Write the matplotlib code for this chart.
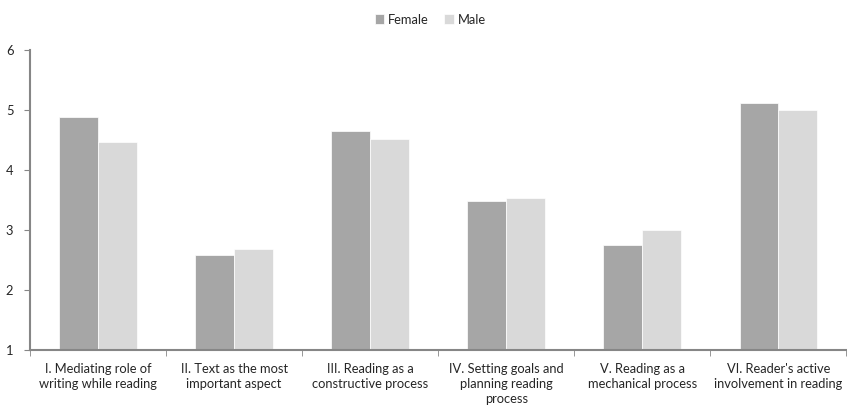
import numpy as np
import matplotlib.pyplot as plt
from matplotlib.ticker import FixedLocator

plt.rcParams['font.family'] = ['Lato', 'DejaVu Sans']

categories = ["I. Mediating role of\nwriting while reading",
              "II. Text as the most\nimportant aspect",
              "III. Reading as a\nconstructive process",
              "IV. Setting goals and\nplanning reading\nprocess",
              "V. Reading as a\nmechanical process",
              "VI. Reader's active\ninvolvement in reading"]
female = [4.88, 2.59, 4.65, 3.49, 2.75, 5.11]
male = [4.46, 2.68, 4.51, 3.53, 3.00, 5.00]

fig = plt.figure(figsize=(8.47, 4.07), dpi=100)
ax = fig.add_axes([0.0354, 0.14, 0.964, 0.737])

x = np.arange(len(categories))
w = 0.286
ax.bar(x - w/2, female, w, bottom=0, color='#a6a6a6', edgecolor='white', linewidth=0.5, label='Female')
ax.bar(x + w/2, male, w, bottom=0, color='#d9d9d9', edgecolor='white', linewidth=0.5, label='Male')

ax.set_ylim(1, 6)
ax.set_xlim(-0.5, len(categories) - 0.5)
ax.set_yticks(range(1, 7))
ax.set_xticks(x)
ax.set_xticklabels(categories, fontsize=9.3, color='#262626', linespacing=1.3)
ax.xaxis.set_minor_locator(FixedLocator(np.arange(-0.5, len(categories), 1)))
ax.tick_params(axis='x', which='major', length=0, pad=9)
ax.tick_params(axis='x', which='minor', length=4, color='#868686', direction='out')
ax.tick_params(axis='y', length=4, color='#868686', labelsize=9.3, labelcolor='#262626', pad=8)

for s in ['top', 'right']:
    ax.spines[s].set_visible(False)
for s in ['left', 'bottom']:
    ax.spines[s].set_color('#868686')
    ax.spines[s].set_linewidth(1.5)

fig.legend(loc='upper center', bbox_to_anchor=(0.508, 0.995), ncol=2, frameon=False,
           fontsize=9.3, handlelength=0.75, handleheight=0.75, handletextpad=0.3,
           columnspacing=1.2, labelcolor='#262626')

fig.savefig('out.png', dpi=100)
